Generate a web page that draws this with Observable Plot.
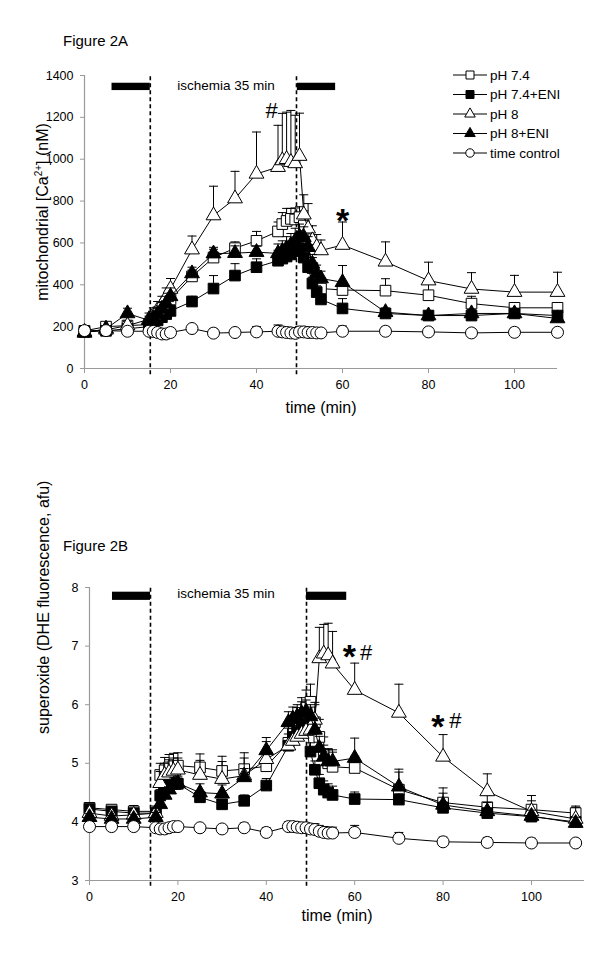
<!DOCTYPE html>
<html><head><meta charset="utf-8">
<script src="https://cdn.jsdelivr.net/npm/d3@7"></script>
<script src="https://cdn.jsdelivr.net/npm/@observablehq/plot@0.6"></script>
<style>
html,body{margin:0;padding:0;background:#fff;}
#page{position:relative;width:600px;height:954px;overflow:hidden;font-family:"Liberation Sans",Arial,sans-serif;color:#000;}
.abs{position:absolute;}
.title{font-size:15px;line-height:15px;white-space:nowrap;}
.ylab{font-size:16px;line-height:18px;white-space:nowrap;transform:translate(-50%,-50%) rotate(-90deg);}
.ylab sup{font-size:10px;vertical-align:6px;line-height:0}
</style></head>
<body><div id="page">
<div class="abs title" style="left:63px;top:33px">Figure 2A</div>
<div id="figA" class="abs" style="left:0;top:0"></div>
<div class="abs ylab" style="left:43px;top:212px">mitochondrial [Ca<sup>2+</sup>] (nM)</div>
<div id="legend" class="abs" style="left:0;top:0"></div>
<div class="abs title" style="left:63px;top:538px">Figure 2B</div>
<div id="figB" class="abs" style="left:0;top:520px"></div>
</div>
<script>
// ---------- shared ----------
const times = [0,5,10,15,16,17,18,19,20,25,30,35,40,45,46,47,48,49,50,51,52,53,54,55,60,70,80,90,100,110];
const seriesNames = ["pH 7.4","pH 7.4+ENI","pH 8","pH 8+ENI","time control"];
const seriesSymbols = ["square","square","triangle","triangle","circle"];
const seriesFills = ["white","black","white","black","white"];

// ---------- Figure 2A: mitochondrial [Ca2+] (nM) ----------
const caPH74      = [180,200,205,210, 230,250,275,300,330, 440,530,575,610, 655,690,705,715,712,723, 683,600,480,410,382, 375,372,350,310,290,290];
const caPH74Err   = [12,20,25,20, 30,30,35,35,40, 30,40,30,45, 45,55,60,50,55,50, 70,60,50,40,40, 25,57,57,35,25,25];
const caPH74ENI   = [175,180,190,200, 215,230,245,260,275, 320,382,444,484, 515,525,535,545,560,575, 530,484,406,365,330, 287,263,253,253,263,253];
const caPH74ENIErr= [10,15,15,15, 20,20,25,25,25, 25,62,57,40, 50,55,60,55,50,45, 40,35,30,30,25, 47,20,20,20,20,20];
const caPH8       = [175,185,205,235, 255,280,305,340,380, 568,731,812,930, 962,994,1000,986,980,1015, 735,668,612,580,564, 590,510,420,380,365,365];
const caPH8Err    = [10,15,20,30, 35,40,40,45,50, 65,140,130,200, 200,225,225,247,230,205, 95,120,70,60,50, 110,95,88,78,80,95];
const caPH8ENI    = [170,190,263,230, 240,260,285,310,345, 454,549,551,556, 550,560,575,590,610,630, 627,580,500,454,430, 412,269,253,263,263,239];
const caPH8ENIErr = [10,15,25,20, 25,30,30,35,40, 30,30,35,30, 45,50,55,55,60,60, 50,50,45,40,35, 80,20,20,20,20,20];
const caTC        = [181,181,178,178, 177,172,165,165,172, 191,169,172,175, 178,175,172,170,168,175, 175,172,172,170,170, 178,178,175,170,173,173];
const caTCErr     = [10,12,12,10, 10,10,10,10,10, 15,20,15,25, 30,25,25,25,20,25, 25,20,20,15,15, 25,20,20,20,20,18];
const caTicksX = [0,20,40,60,80,100];
const caTicksY = [0,200,400,600,800,1000,1200,1400];
const caDashed = [15.3, 49.3];
const caBars = [{x1:6.4,x2:15.3,y1:1328,y2:1363},{x1:49.5,x2:58.4,y1:1328,y2:1363}];
const caIschemiaLabel = [{t:32.9, v:1352, text:"ischemia 35 min"}];
const caHash = [{t:43.5, v:1199, text:"#"}];
const caStar = [{t:60, v:650, text:"*"}];

// ---------- Figure 2B: superoxide (DHE fluorescence, afu) ----------
const soPH74      = [4.24,4.21,4.18,4.18, 4.80,4.88,4.93,4.95,4.96, 4.93,4.87,4.90,4.95, 5.35,5.50,5.65,5.80,5.95,6.05, 5.70,5.45,5.15,5.00,4.94, 4.92,4.55,4.33,4.25,4.21,4.15];
const soPH74Err   = [0.05,0.08,0.1,0.08, 0.2,0.22,0.22,0.22,0.22, 0.23,0.25,0.28,0.22, 0.3,0.3,0.3,0.32,0.3,0.3, 0.3,0.3,0.3,0.25,0.25, 0.2,0.3,0.25,0.2,0.15,0.12];
const soPH74ENI   = [4.22,4.18,4.15,4.15, 4.45,4.58,4.63,4.65,4.65, 4.42,4.30,4.36,4.62, 5.30,5.45,5.52,5.60,5.65,5.20, 4.89,4.66,4.55,4.50,4.46, 4.39,4.38,4.24,4.15,4.09,4.00];
const soPH74ENIErr= [0.05,0.05,0.06,0.06, 0.1,0.1,0.1,0.1,0.1, 0.1,0.08,0.1,0.12, 0.2,0.2,0.2,0.2,0.2,0.15, 0.15,0.15,0.15,0.15,0.15, 0.12,0.1,0.1,0.08,0.08,0.08];
const soPH8       = [4.15,4.10,4.12,4.15, 4.66,4.80,4.84,4.87,4.89, 4.80,4.73,4.79,5.07, 5.30,5.38,5.45,5.50,5.55,5.57, 5.74,6.79,6.87,6.84,6.70, 6.25,5.86,5.11,4.52,4.18,4.05];
const soPH8Err    = [0.08,0.08,0.1,0.1, 0.2,0.2,0.22,0.22,0.2, 0.25,0.3,0.3,0.3, 0.3,0.3,0.3,0.3,0.3,0.3, 0.3,0.53,0.5,0.55,0.55, 0.46,0.49,0.38,0.3,0.27,0.2];
const soPH8ENI    = [4.08,4.05,4.05,4.08, 4.30,4.46,4.55,4.63,4.66, 4.50,4.48,4.76,5.22, 5.70,5.76,5.80,5.85,5.88,5.80, 5.57,5.26,5.11,5.03,5.03, 5.09,4.60,4.29,4.18,4.10,3.98];
const soPH8ENIErr = [0.06,0.06,0.08,0.08, 0.12,0.12,0.12,0.12,0.12, 0.15,0.15,0.15,0.22, 0.18,0.2,0.2,0.2,0.2,0.2, 0.2,0.2,0.2,0.2,0.2, 0.34,0.3,0.2,0.15,0.1,0.1];
const soTC        = [3.92,3.92,3.92,3.90, 3.88,3.88,3.90,3.92,3.92, 3.90,3.88,3.90,3.82, 3.92,3.92,3.91,3.90,3.90,3.88, 3.87,3.84,3.82,3.81,3.81, 3.82,3.72,3.66,3.65,3.64,3.64];
const soTCErr     = [0.05,0.05,0.05,0.05, 0.05,0.05,0.05,0.05,0.05, 0.06,0.06,0.08,0.08, 0.08,0.08,0.08,0.08,0.08,0.08, 0.1,0.1,0.1,0.1,0.1, 0.12,0.1,0.08,0.08,0.08,0.06];
const soTicksX = [0,20,40,60,80,100];
const soTicksY = [3,4,5,6,7,8];
const soDashed = [13.8, 49.1];
const soBars = [{x1:5.2,x2:13.8,y1:7.78,y2:7.92},{x1:49.1,x2:58.2,y1:7.78,y2:7.92}];
const soIschemiaLabel = [{t:30.9, v:7.90, text:"ischemia 35 min"}];
const soStars = [{t:58.8, v:6.63, text:"*"},{t:78.8, v:5.43, text:"*"}];
const soHashes = [{t:62.6, v:6.76, text:"#"},{t:82.8, v:5.60, text:"#"}];

// ---------- drawing ----------
const capSym = {draw(ctx){ ctx.moveTo(-4.5,0); ctx.lineTo(4.5,0); }};
const symR = {square:6, triangle:5.5, circle:6};

function seriesMarks(values, errors) {
  const marks = [];
  values.forEach((vals, k) => {
    const rows = times.map((t,i)=>({t, v: vals[i], e: errors[k][i]}));
    marks.push(Plot.ruleX(rows, {x:"t", y1:"v", y2:d=>d.v+d.e, stroke:"black", strokeWidth:1}));
    marks.push(Plot.dot(rows, {x:"t", y:d=>d.v+d.e, symbol:capSym, stroke:"black", strokeWidth:1, fill:"none", r:3}));
    marks.push(Plot.line(rows, {x:"t", y:"v", stroke:"black", strokeWidth:1}));
    marks.push(Plot.dot(rows, {x:"t", y:"v", symbol:seriesSymbols[k], fill:seriesFills[k], stroke:"black", strokeWidth:1, r:symR[seriesSymbols[k]]}));
  });
  return marks;
}

function panel(cfg) {
  return Plot.plot({
    width: 600, height: cfg.height,
    marginLeft: cfg.ml, marginRight: cfg.mr, marginTop: cfg.mt, marginBottom: cfg.mb,
    x: {domain: cfg.xDomain},
    y: {domain: cfg.yDomain},
    style: {fontFamily: "Liberation Sans, Arial, sans-serif", fontSize: "12px", color: "black", background: "transparent", overflow: "visible"},
    marks: [
      Plot.ruleY([cfg.yDomain[0]], {stroke:"#9a9a9a", strokeWidth:1.2}),
      Plot.ruleX([0], {stroke:"#9a9a9a", strokeWidth:1.2}),
      Plot.axisX({ticks: cfg.ticksX, tickFormat: d => String(d), tickSize: 5, tickPadding: 7, stroke:"#9a9a9a", fill:"black", fontSize: 12.5, label: null}),
      Plot.axisY({ticks: cfg.ticksY, tickFormat: d => String(d), tickSize: 4, tickPadding: 7, stroke:"#9a9a9a", fill:"black", fontSize: 12.5, label: null}),
      Plot.ruleX(cfg.dashed, {x:d=>d, y1: cfg.dashY1, y2: cfg.yDomain[1], stroke:"black", strokeWidth:1.6, strokeDasharray:"4,3"}),
      Plot.rect(cfg.bars, {x1:"x1", x2:"x2", y1:"y1", y2:"y2", fill:"black"}),
      Plot.text(cfg.ischemia, {x:"t", y:"v", text:"text", fontSize:13.5, fill:"black"}),
      ...seriesMarks(cfg.values, cfg.errors),
      Plot.text(cfg.stars, {x:"t", y:"v", text:"text", fontSize:34, fontWeight:"bold", lineAnchor:"bottom", fill:"black"}),
      Plot.text(cfg.hashes, {x:"t", y:"v", text:"text", fontSize:22, lineAnchor:"bottom", fill:"black"}),
      Plot.text(["time (min)"], {frameAnchor:"bottom", dy: cfg.xLabelDy, fontSize:16, fill:"black"}),
      ...(cfg.yLabel ? [Plot.text([cfg.yLabel], {frameAnchor:"left", dx:-46, rotate:-90, fontSize:16, fill:"black"})] : [])
    ]
  });
}

const plotA = panel({
  height: 430, ml: 84, mr: 43, mt: 75, mb: 62,
  xDomain: [0,110], yDomain: [0,1400], ticksX: caTicksX, ticksY: caTicksY,
  dashed: caDashed, dashY1: -30, bars: caBars, ischemia: caIschemiaLabel,
  values: [caPH74, caPH74ENI, caPH8, caPH8ENI, caTC],
  errors: [caPH74Err, caPH74ENIErr, caPH8Err, caPH8ENIErr, caTCErr],
  stars: caStar, hashes: caHash, xLabelDy: 44, yLabel: null
});
document.getElementById("figA").append(plotA);

const plotB = panel({
  height: 434, ml: 89, mr: 16, mt: 67, mb: 74,
  xDomain: [0,112], yDomain: [3,8], ticksX: soTicksX, ticksY: soTicksY,
  dashed: soDashed, dashY1: 2.9, bars: soBars, ischemia: soIschemiaLabel,
  values: [soPH74, soPH74ENI, soPH8, soPH8ENI, soTC],
  errors: [soPH74Err, soPH74ENIErr, soPH8Err, soPH8ENIErr, soTCErr],
  stars: soStars, hashes: soHashes, xLabelDy: 40, yLabel: "superoxide (DHE fluorescence, afu)"
});
document.getElementById("figB").append(plotB);

// ---------- legend (Figure 2A) ----------
const legendSizes = {square:64, triangle:48, circle:56};
const lg = d3.select("#legend").append("svg").attr("width",600).attr("height",170)
  .style("font-family","Liberation Sans, Arial, sans-serif").style("overflow","visible");
seriesNames.forEach((name, k) => {
  const y = 75 + k*19.5;
  const g = lg.append("g").attr("transform", `translate(0,${y})`);
  g.append("line").attr("x1",453).attr("x2",487).attr("y1",0).attr("y2",0).attr("stroke","black");
  const sym = {square:d3.symbolSquare, triangle:d3.symbolTriangle, circle:d3.symbolCircle}[seriesSymbols[k]];
  g.append("path").attr("transform","translate(470,0)")
    .attr("d", d3.symbol(sym, legendSizes[seriesSymbols[k]])())
    .attr("fill", seriesFills[k]).attr("stroke","black");
  g.append("text").attr("x",490).attr("y",0).attr("dy","0.35em").attr("font-size",13.5).text(name);
});
</script>
</body></html>
